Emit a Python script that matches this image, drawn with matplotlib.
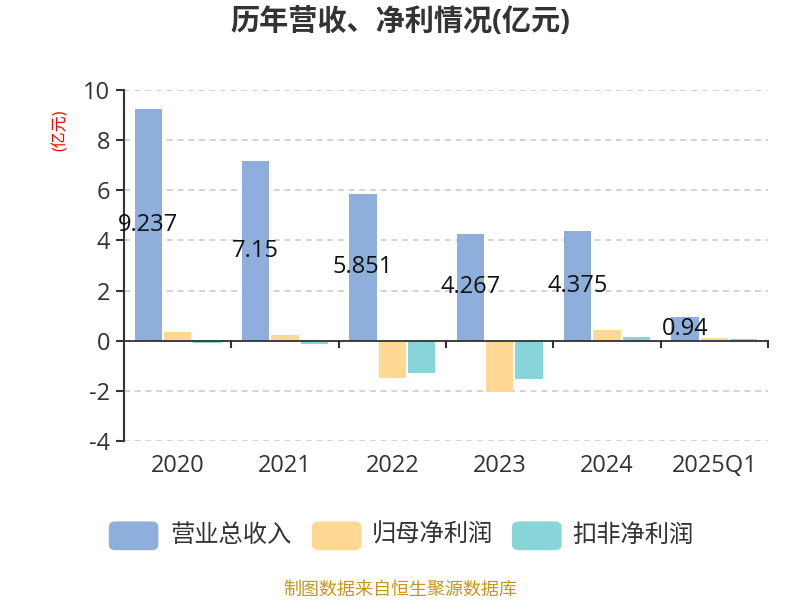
import matplotlib
matplotlib.use("Agg")
import matplotlib.pyplot as plt
from matplotlib.patches import FancyBboxPatch
import numpy as np

plt.rcParams['font.family'] = ['Open Sans', 'Noto Sans CJK SC', 'DejaVu Sans']
plt.rcParams['axes.unicode_minus'] = False

categories = ["2020", "2021", "2022", "2023", "2024", "2025Q1"]
revenue = [9.237, 7.15, 5.851, 4.267, 4.375, 0.94]
net_profit = [0.36, 0.24, -1.47, -2.03, 0.44, 0.11]
deducted_profit = [-0.08, -0.15, -1.28, -1.53, 0.16, 0.08]
series_names = ["营业总收入", "归母净利润", "扣非净利润"]
colors = ["#8EAFDB", "#FFD994", "#87D5D8"]

fig = plt.figure(figsize=(8, 6), dpi=100)
ax = fig.add_axes([0.155, 0.265, 0.805, 0.585])

x = np.arange(len(categories))
w = 0.255
step = 0.273
for i, (vals, c) in enumerate(zip([revenue, net_profit, deducted_profit], colors)):
    ax.bar(x + (i - 1) * step, vals, width=w, color=c, edgecolor='none', zorder=3)

for xi, v in zip(x, revenue):
    ax.text(xi - step, v / 2, f"{v:g}", ha='center', va='center', fontsize=17, color='#111111', zorder=6)

ax.set_xlim(-0.5, len(categories) - 0.5)
ax.set_ylim(-4, 10)
ax.set_yticks([-4, -2, 0, 2, 4, 6, 8, 10])
ax.set_yticklabels(["-4", "-2", "0", "2", "4", "6", "8", "10"])
ax.yaxis.grid(True, linestyle=(0, (4, 3)), color='#c8c8c8', linewidth=1.1, zorder=0)
ax.set_axisbelow(True)

for s in ['top', 'right', 'bottom']:
    ax.spines[s].set_visible(False)
ax.spines['left'].set_color('#333333')
ax.spines['left'].set_linewidth(1.5)
ax.axhline(0, color='#333333', linewidth=1.3, zorder=5)
ax.set_xticks([])
for b in np.arange(0.5, len(categories), 1.0):
    ax.plot([b, b], [0, -0.25], color='#333333', linewidth=1.5, clip_on=False, zorder=5)
for xi, c in zip(x, categories):
    ax.text(xi, -4.5, c, ha='center', va='top', fontsize=17, color='#333333')

ax.tick_params(axis='y', length=6, width=1.5, color='#333333', labelsize=17, labelcolor='#333333', pad=4)

ax.text(-0.098, 0.885, "(亿元)", transform=ax.transAxes, rotation=90, color='red', fontsize=11.5, ha='center', va='center')

fig.text(0.5, 0.962, "历年营收、净利情况(亿元)", ha='center', va='center', fontsize=21, fontweight='bold', color='#333333')

leg_y = 0.107
items = [(0.136, 0.2125), (0.39, 0.465), (0.64, 0.715)]
for (bx, tx), name, c in zip(items, series_names, colors):
    p = FancyBboxPatch((bx, leg_y - 0.024), 0.062, 0.048, boxstyle="round,pad=0,rounding_size=0.009",
                       transform=fig.transFigure, facecolor=c, edgecolor='none')
    fig.patches.append(p)
    fig.text(tx, leg_y, name, ha='left', va='center', fontsize=17.5, color='#333333')

fig.text(0.5, 0.017, "制图数据来自恒生聚源数据库", ha='center', va='center', fontsize=13, color='#C8961E')

fig.savefig("out.png", dpi=100)
